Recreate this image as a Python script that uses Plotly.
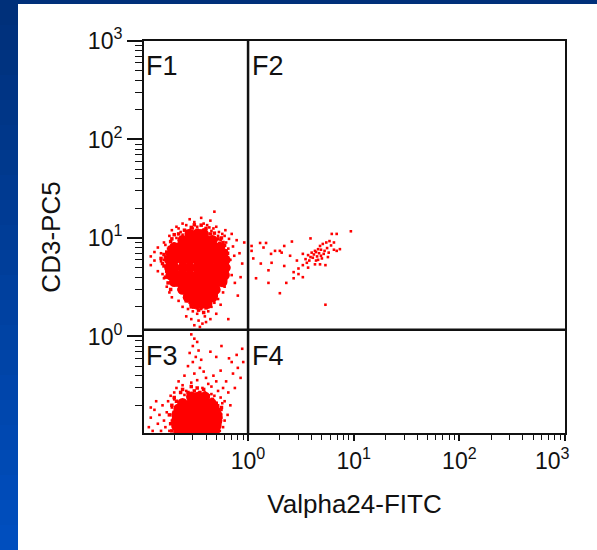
import math
import plotly.graph_objects as go

# ---------------- data (fluorescence values, log scale) ----------------
gate_x = 1.0     # vertical quadrant gate (Valpha24-FITC)
gate_y = 1.17    # horizontal quadrant gate (CD3-PC5)

quadrant_labels = ["F1", "F2", "F3", "F4"]
x_tick_vals = [1, 10, 100, 1000]
x_tick_text = ["10<sup>0</sup>", "10<sup>1</sup>", "10<sup>2</sup>",
               "10<sup>3</sup>\u00a0\u00a0\u00a0\u00a0"]
y_tick_vals = [1, 10, 100, 1000]
y_tick_text = ["10<sup>0</sup>", "10<sup>1</sup>", "10<sup>2</sup>", "10<sup>3</sup>"]

# dense core of the CD3+ Valpha24- population (F1): rows of equal CD3 value
f1_core_rows_y = [11.0, 9.5, 8.0, 7.0, 6.0, 5.0, 4.2, 3.6, 3.0, 2.5, 2.15]
f1_core_rows_x = [
    [0.28, 0.33, 0.38],
    [0.24, 0.29, 0.34, 0.40, 0.46],
    [0.20, 0.22, 0.26, 0.31, 0.36, 0.42, 0.49, 0.54],
    [0.19, 0.21, 0.25, 0.29, 0.34, 0.40, 0.46, 0.52, 0.58],
    [0.18, 0.20, 0.24, 0.28, 0.33, 0.38, 0.44, 0.51, 0.56, 0.61],
    [0.18, 0.20, 0.24, 0.28, 0.33, 0.38, 0.44, 0.51, 0.56, 0.61],
    [0.185, 0.21, 0.24, 0.28, 0.33, 0.38, 0.44, 0.50, 0.55, 0.60],
    [0.20, 0.22, 0.26, 0.30, 0.35, 0.40, 0.46, 0.52, 0.57],
    [0.24, 0.28, 0.32, 0.37, 0.43, 0.49],
    [0.27, 0.31, 0.36, 0.41, 0.46],
    [0.31, 0.36, 0.41],
]

# dense core of the CD3- population (F3)
f3_core_rows_y = [0.245, 0.21, 0.185, 0.16, 0.14, 0.123, 0.108]
f3_core_rows_x = [
    [0.29, 0.34, 0.39],
    [0.24, 0.29, 0.34, 0.40, 0.45],
    [0.22, 0.26, 0.31, 0.36, 0.42, 0.48],
    [0.21, 0.25, 0.29, 0.34, 0.40, 0.46, 0.51],
    [0.21, 0.25, 0.29, 0.34, 0.40, 0.46, 0.51],
    [0.21, 0.25, 0.29, 0.34, 0.40, 0.46, 0.50],
    [0.22, 0.26, 0.31, 0.36, 0.42, 0.48],
]

# sparse events around the F1 population
f1_events = [
    (0.12, 6.5), (0.13, 7.2), (0.12, 5.3), (0.14, 8.0), (0.15, 5.8), (0.14, 4.6),
    (0.16, 9.0), (0.16, 3.9), (0.17, 6.8), (0.17, 3.2), (0.18, 10.5), (0.18, 2.8),
    (0.19, 12.0), (0.19, 2.5), (0.18, 4.8), (0.175, 7.8), (0.21, 13.0), (0.22, 12.5),
    (0.24, 14.0), (0.26, 13.5), (0.28, 15.5), (0.31, 14.5), (0.33, 13.0), (0.36, 16.0),
    (0.38, 14.0), (0.41, 13.5), (0.44, 15.0), (0.47, 12.5), (0.50, 13.0), (0.53, 11.5),
    (0.23, 11.5), (0.45, 11.8), (0.60, 10.5), (0.62, 9.0), (0.65, 7.8), (0.63, 6.5),
    (0.68, 6.0), (0.66, 5.0), (0.70, 4.2), (0.64, 4.6), (0.62, 3.8), (0.72, 8.2),
    (0.78, 9.5), (0.83, 7.0), (0.88, 5.5), (0.92, 9.0), (0.75, 3.5), (0.85, 4.0),
    (0.60, 3.2), (0.58, 2.8), (0.61, 12.0), (0.70, 11.0), (0.22, 2.3), (0.24, 2.0),
    (0.27, 1.9), (0.30, 1.8), (0.33, 1.7), (0.36, 1.9), (0.39, 1.6), (0.42, 1.8),
    (0.45, 2.0), (0.48, 2.2), (0.52, 2.4), (0.55, 2.1), (0.29, 1.5), (0.34, 1.45),
    (0.37, 1.35), (0.31, 1.3), (0.40, 1.4), (0.44, 1.5), (0.26, 1.6), (0.35, 1.25),
    (0.28, 2.2), (0.50, 1.7), (0.65, 1.5), (0.80, 2.6), (0.19, 5.5), (0.185, 6.2),
    (0.19, 4.2), (0.20, 3.5), (0.20, 8.8), (0.21, 10.0), (0.22, 3.0), (0.24, 10.8),
    (0.55, 9.5), (0.58, 8.0), (0.60, 7.0), (0.60, 5.5), (0.59, 4.5), (0.56, 3.5),
    (0.52, 10.5), (0.26, 11.8), (0.30, 12.5), (0.38, 12.2), (0.43, 12.8), (0.48, 3.0),
    (0.25, 2.6), (0.53, 2.9), (0.16, 6.0), (0.15, 7.0), (0.17, 5.0), (0.165, 8.5),
    (0.48, 18.5), (0.13, 5.9), (0.155, 4.3), (0.57, 11.0), (0.66, 9.8), (0.74, 6.6),
]

# denser events at the rim of the F1 core
f1_rim_events = [
    (0.165, 4.0), (0.17, 4.6), (0.16, 5.2), (0.175, 5.6), (0.165, 6.4), (0.17, 7.2),
    (0.18, 8.0), (0.175, 3.5), (0.185, 3.0), (0.155, 5.5), (0.16, 6.8), (0.15, 6.2),
    (0.185, 9.2), (0.19, 9.8), (0.20, 10.8), (0.22, 11.0), (0.25, 12.0), (0.29, 12.8),
    (0.33, 12.0), (0.36, 13.5), (0.40, 12.5), (0.44, 11.0), (0.48, 11.2), (0.27, 11.2),
    (0.35, 11.8), (0.31, 13.6), (0.56, 10.0), (0.58, 9.0), (0.60, 8.4), (0.62, 7.4),
    (0.61, 6.2), (0.63, 5.5), (0.62, 4.9), (0.60, 4.0), (0.58, 3.3), (0.54, 8.8),
    (0.56, 7.6), (0.55, 3.8), (0.57, 4.8), (0.59, 5.9), (0.64, 7.0), (0.52, 9.8),
    (0.26, 2.3), (0.29, 2.0), (0.33, 1.95), (0.37, 2.05), (0.40, 1.95), (0.44, 2.2),
    (0.47, 2.5), (0.34, 1.85), (0.31, 2.1), (0.42, 2.35), (0.38, 1.75), (0.50, 2.6),
]

# sparse events around the F3 population
f3_events = [
    (0.115, 0.12), (0.12, 0.15), (0.125, 0.11), (0.13, 0.18), (0.14, 0.13), (0.145, 0.16),
    (0.15, 0.11), (0.155, 0.20), (0.16, 0.14), (0.165, 0.12), (0.17, 0.17), (0.175, 0.22),
    (0.18, 0.11), (0.185, 0.25), (0.19, 0.19), (0.135, 0.22), (0.12, 0.19),
    (0.29, 1.05), (0.31, 0.95), (0.33, 0.88), (0.30, 0.80), (0.34, 0.72), (0.28, 0.68),
    (0.32, 0.62), (0.36, 0.58), (0.30, 0.55), (0.27, 0.50), (0.35, 0.48), (0.38, 0.44),
    (0.31, 0.42), (0.25, 0.40), (0.40, 0.38), (0.33, 0.36), (0.29, 0.34), (0.42, 0.33),
    (0.24, 0.32), (0.37, 0.30), (0.45, 0.31), (0.26, 0.28), (0.21, 0.30), (0.20, 0.27),
    (0.50, 0.35), (0.47, 0.40), (0.22, 0.35), (0.52, 0.28), (0.55, 0.24), (0.58, 0.30),
    (0.60, 0.22), (0.62, 0.35), (0.65, 0.27), (0.68, 0.20), (0.72, 0.42), (0.75, 0.30),
    (0.80, 0.48), (0.85, 0.38), (0.90, 0.55), (0.56, 0.18), (0.60, 0.14), (0.58, 0.12),
    (0.64, 0.16), (0.55, 0.45), (0.70, 0.55), (0.66, 0.60), (0.78, 0.65), (0.88, 0.75),
    (0.50, 0.62), (0.44, 0.70), (0.56, 0.80), (0.48, 0.25), (0.52, 0.20), (0.20, 0.23),
    (0.19, 0.14), (0.56, 0.15), (0.54, 0.11), (0.57, 0.21), (0.45, 0.26), (0.25, 0.255),
    (0.39, 0.27), (0.23, 0.12),
]

# denser events at the rim of the F3 core
f3_rim_events = [
    (0.18, 0.16), (0.185, 0.13), (0.19, 0.11), (0.19, 0.20), (0.20, 0.24), (0.23, 0.27),
    (0.27, 0.27), (0.31, 0.28), (0.35, 0.27), (0.42, 0.25), (0.46, 0.23), (0.50, 0.21),
    (0.53, 0.18), (0.55, 0.16), (0.54, 0.13), (0.52, 0.11), (0.21, 0.22), (0.20, 0.17),
    (0.56, 0.19), (0.22, 0.105), (0.24, 0.29), (0.33, 0.30), (0.29, 0.31), (0.38, 0.29),
]

# Valpha24+ CD3+ events (F2)
f2_events = [
    (9.4, 11.7), (6.9, 11.0), (6.2, 11.0), (3.9, 9.9), (1.3, 8.9), (1.48, 8.9),
    (1.08, 8.3), (1.08, 7.4), (1.4, 8.0), (1.8, 7.4), (2.0, 7.4), (2.08, 7.1),
    (2.6, 9.2), (1.65, 6.9), (2.5, 6.6), (1.12, 6.2), (1.32, 5.5), (1.67, 5.6),
    (2.9, 5.9), (2.2, 5.2), (1.56, 4.7), (3.3, 6.9), (3.7, 6.7), (4.0, 7.1),
    (4.3, 7.4), (4.6, 7.7), (4.8, 8.3), (5.1, 8.7), (5.5, 9.0), (5.9, 9.3),
    (6.5, 7.6), (4.1, 6.3), (4.4, 5.9), (3.8, 5.9), (3.6, 5.6), (3.3, 5.3),
    (3.0, 4.9), (2.7, 4.5), (3.0, 4.3), (2.7, 3.9), (3.3, 4.0), (2.3, 3.5),
    (1.56, 3.5), (1.19, 3.9), (2.0, 2.75), (5.4, 2.1), (4.9, 6.6), (5.3, 7.4),
    (5.8, 7.1), (4.8, 5.4), (5.4, 5.3), (6.9, 7.4), (7.4, 7.7), (6.5, 9.0),
    (2.2, 8.3), (4.2, 6.8), (4.5, 6.5), (4.7, 7.0), (5.0, 6.2), (4.4, 7.2),
    (3.9, 6.4), (5.2, 6.9), (4.6, 6.0), (5.6, 7.9), (6.1, 8.4), (3.5, 6.1),
    (4.9, 7.6), (5.7, 6.4), (4.3, 5.4), (3.7, 5.0),
]

# ---------------- geometry helpers (layout only) ----------------
W_FIG, H_FIG = 597, 550
M_L, M_R, M_T, M_B = 144, 32, 41, 117
PW = W_FIG - M_L - M_R
PH = H_FIG - M_T - M_B


def px_x(px):
    return (px - M_L) / PW


def px_y(py):
    return (H_FIG - M_B - py) / PH


FONT = "Liberation Sans, Arial, sans-serif"
RED = "#ff0000"
INK = "#111111"

core1_x, core1_y = [], []
for yv, xs in zip(f1_core_rows_y, f1_core_rows_x):
    core1_x += xs
    core1_y += [yv] * len(xs)
core3_x, core3_y = [], []
for yv, xs in zip(f3_core_rows_y, f3_core_rows_x):
    core3_x += xs
    core3_y += [yv] * len(xs)

fig = go.Figure()
fig.add_trace(go.Scatter(x=core1_x + core3_x, y=core1_y + core3_y, mode="markers",
                         marker=dict(color=RED, size=10.5, symbol="circle", line=dict(width=0)),
                         hoverinfo="skip", showlegend=False))
rim = f1_rim_events + f3_rim_events
fig.add_trace(go.Scatter(x=[p[0] for p in rim], y=[p[1] for p in rim], mode="markers",
                         marker=dict(color=RED, size=3.5, symbol="square", line=dict(width=0)),
                         hoverinfo="skip", showlegend=False))
ev = f1_events + f3_events + f2_events
fig.add_trace(go.Scatter(x=[p[0] for p in ev], y=[p[1] for p in ev], mode="markers",
                         marker=dict(color=RED, size=2.6, symbol="square", line=dict(width=0)),
                         hoverinfo="skip", showlegend=False))

minor_mult = [2, 3, 4, 5, 6, 7, 8, 9]
minor_vals = [m * d for d in (0.1, 1, 10, 100) for m in minor_mult]

axis_common = dict(
    type="log", showgrid=False, zeroline=False, automargin=False,
    showline=True, linecolor=INK, linewidth=2, mirror=True,
    ticks="outside", tickcolor=INK, tickwidth=1.5,
    tickfont=dict(family=FONT, size=23, color=INK),
)

fig.update_layout(
    width=W_FIG, height=H_FIG, autosize=False,
    margin=dict(l=M_L, r=M_R, t=M_T, b=M_B, pad=0),
    paper_bgcolor="white", plot_bgcolor="white",
    xaxis=dict(axis_common, range=[-0.985, 3.0], tickvals=x_tick_vals, ticktext=x_tick_text,
               ticklen=6,
               minor=dict(tickvals=minor_vals, ticks="outside", ticklen=5, tickwidth=1.2,
                          tickcolor=INK, showgrid=False),
               title=dict(text="Valpha24-FITC", font=dict(family=FONT, size=26, color=INK),
                          standoff=22)),
    yaxis=dict(axis_common, range=[-0.98, 3.0], tickvals=y_tick_vals, ticktext=y_tick_text,
               ticklen=15,
               minor=dict(tickvals=minor_vals, ticks="outside", ticklen=7, tickwidth=1.2,
                          tickcolor=INK, showgrid=False),
               title=dict(text="CD3-PC5", font=dict(family=FONT, size=26, color=INK),
                          standoff=20)),
)

shapes = []
# slide background: dark blue top band and blue gradient strip on the left
shapes.append(dict(type="rect", xref="paper", yref="paper", layer="below",
                   x0=px_x(0), x1=px_x(W_FIG), y0=px_y(4), y1=px_y(0),
                   fillcolor="#00307a", line=dict(width=0)))
n_steps = 22
c0, c1 = (0x00, 0x30, 0x7a), (0x00, 0x4e, 0xbe)
for i in range(n_steps):
    t = i / (n_steps - 1)
    col = "rgb(%d,%d,%d)" % tuple(round(a + (b - a) * t) for a, b in zip(c0, c1))
    ya = H_FIG * i / n_steps
    yb = H_FIG * (i + 1) / n_steps + 1
    shapes.append(dict(type="rect", xref="paper", yref="paper", layer="below",
                       x0=px_x(0), x1=px_x(18), y0=px_y(yb), y1=px_y(ya),
                       fillcolor=col, line=dict(width=0)))
# quadrant gates
shapes.append(dict(type="line", xref="x", yref="paper", x0=gate_x, x1=gate_x, y0=0, y1=1,
                   line=dict(color=INK, width=2.5), layer="above"))
shapes.append(dict(type="line", xref="paper", yref="y", x0=0, x1=1, y0=gate_y, y1=gate_y,
                   line=dict(color=INK, width=2.5), layer="above"))
fig.update_layout(shapes=shapes)

# quadrant labels (annotation positions on log axes are given in log10 units)
lab_font = dict(family=FONT, size=27, color=INK)
gx, gy = math.log10(gate_x), math.log10(gate_y)
fig.add_annotation(text=quadrant_labels[0], xref="paper", yref="paper", x=0, y=1,
                   xanchor="left", yanchor="top", showarrow=False, font=lab_font,
                   xshift=0, yshift=-8)
fig.add_annotation(text=quadrant_labels[1], xref="x", yref="paper", x=gx, y=1,
                   xanchor="left", yanchor="top", showarrow=False, font=lab_font,
                   xshift=2, yshift=-8)
fig.add_annotation(text=quadrant_labels[2], xref="paper", yref="y", x=0, y=gy,
                   xanchor="left", yanchor="top", showarrow=False, font=lab_font,
                   xshift=0, yshift=-9)
fig.add_annotation(text=quadrant_labels[3], xref="x", yref="y", x=gx, y=gy,
                   xanchor="left", yanchor="top", showarrow=False, font=lab_font,
                   xshift=2, yshift=-9)

fig.write_html("out.html")
